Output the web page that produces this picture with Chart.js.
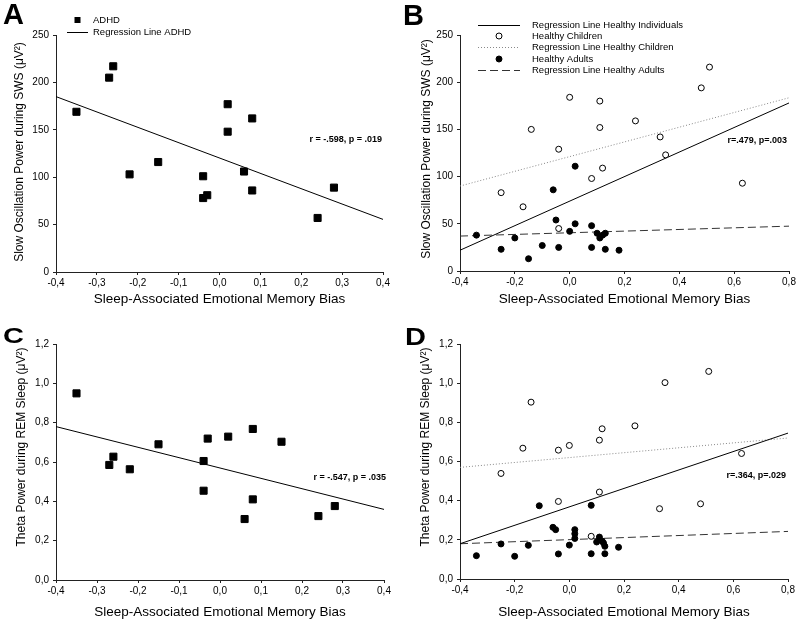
<!DOCTYPE html>
<html>
<head>
<meta charset="utf-8">
<script src="https://cdn.jsdelivr.net/npm/chart.js@4.4.1/dist/chart.umd.min.js"></script>
<style>
  body { margin: 0; background: #fff; width: 799px; height: 622px; position: relative; overflow: hidden; }
  canvas { position: absolute; }
</style>
</head>
<body>
<canvas id="chartA" width="400" height="310" style="left:0;top:0"></canvas>
<canvas id="chartB" width="399" height="310" style="left:400px;top:0"></canvas>
<canvas id="chartC" width="400" height="312" style="left:0;top:310px"></canvas>
<canvas id="chartD" width="399" height="312" style="left:400px;top:310px"></canvas>
<script>
// ---- data ----
// ADHD group (panels A and C)
const adhdBiasA = [-0.35, -0.27, -0.26, -0.22, -0.15, -0.04, -0.04, -0.03, 0.02, 0.02, 0.06, 0.08, 0.08, 0.24, 0.28];
const adhdSlowOsc = [169, 205, 217, 103, 116, 101, 78, 81, 177, 148, 106, 162, 86, 57, 89];
const adhdBiasC = [-0.35, -0.27, -0.26, -0.22, -0.15, -0.04, -0.04, -0.03, 0.02, 0.06, 0.08, 0.08, 0.15, 0.24, 0.28];
const adhdTheta = [0.949, 0.585, 0.627, 0.563, 0.69, 0.605, 0.454, 0.719, 0.729, 0.31, 0.768, 0.41, 0.703, 0.325, 0.376];

// healthy children (open circles, panels B and D)
const childBias = [-0.25, -0.17, -0.14, -0.04, -0.04, 0.0, 0.08, 0.11, 0.11, 0.12, 0.24, 0.33, 0.35, 0.48, 0.51, 0.63];
const childSlowOsc = [83, 68, 150, 129, 45, 184, 98, 180, 152, 109, 159, 142, 123, 194, 216, 93];
const childTheta = [0.539, 0.668, 0.903, 0.396, 0.658, 0.682, 0.218, 0.709, 0.444, 0.767, 0.782, 0.359, 1.003, 0.384, 1.06, 0.641];

// healthy adults (filled circles)
const adultBiasB = [-0.34, -0.25, -0.2, -0.15, -0.1, -0.06, -0.05, -0.04, 0.0, 0.02, 0.02, 0.08, 0.08, 0.1, 0.11, 0.12, 0.13, 0.13, 0.18];
const adultSlowOsc = [38, 23, 35, 13, 27, 86, 54, 25, 42, 111, 50, 48, 25, 40, 35, 38, 40, 23, 22];
const adultBiasD = [-0.34, -0.25, -0.2, -0.15, -0.11, -0.06, -0.05, -0.04, 0.0, 0.02, 0.02, 0.02, 0.08, 0.08, 0.1, 0.11, 0.12, 0.125, 0.13, 0.13, 0.18];
const adultTheta = [0.119, 0.179, 0.116, 0.172, 0.374, 0.264, 0.252, 0.128, 0.173, 0.252, 0.231, 0.207, 0.376, 0.129, 0.189, 0.214, 0.194, 0.184, 0.167, 0.129, 0.162];

// regression line end points [x0, y0, x1, y1]
const regA = [-0.4, 185, 0.4, 55.5];
const regC = [-0.4, 0.78, 0.4, 0.359];
const regB_all = [-0.4, 22, 0.8, 178];
const regB_child = [-0.4, 90, 0.8, 183.5];
const regB_adult = [-0.4, 37, 0.8, 47.5];
const regD_all = [-0.4, 0.18, 0.8, 0.745];
const regD_child = [-0.4, 0.57, 0.8, 0.72];
const regD_adult = [-0.4, 0.18, 0.8, 0.243];

// axis ticks
const xTicksAdhd = [-0.4, 0.4, 0.1];     // min, max, step
const xTicksHealthy = [-0.4, 0.8, 0.2];
const yTicksSlowOsc = [0, 250, 50];
const yTicksTheta = [0, 1.2, 0.2];

const FONT = '"Liberation Sans", Arial, Helvetica, sans-serif';
const xTitle = 'Sleep-Associated Emotional Memory Bias';

function pts(xs, ys) {
  return xs.map((x, i) => ({ x: x, y: ys[i] }));
}
function seg(r) {
  return [{ x: r[0], y: r[1] }, { x: r[2], y: r[3] }];
}
function comma(v, d) {
  return v.toFixed(d).replace('.', ',');
}

// draws panel letter, rotated y title, r/p note and the legend
const panelDeco = {
  id: 'panelDeco',
  afterDraw(chart, args, o) {
    const ctx = chart.ctx;
    ctx.save();
    ctx.fillStyle = '#000';

    ctx.save();
    ctx.font = 'bold 29px ' + FONT;
    ctx.textBaseline = 'alphabetic';
    ctx.translate(o.letterX, o.letterY);
    ctx.scale(1, o.letterSy);
    ctx.fillText(o.letter, 0, 0);
    ctx.restore();

    ctx.save();
    ctx.translate(o.yTitleX, o.yTitleY);
    ctx.rotate(-Math.PI / 2);
    ctx.font = '12px ' + FONT;
    ctx.textAlign = 'center';
    ctx.textBaseline = 'middle';
    ctx.fillText(o.yTitle, 0, 0);
    ctx.restore();

    ctx.font = 'bold 9px ' + FONT;
    ctx.textAlign = 'right';
    ctx.textBaseline = 'middle';
    ctx.fillText(o.note, o.noteX, o.noteY);

    ctx.font = '9.5px ' + FONT;
    ctx.textAlign = 'left';
    o.legend.forEach(function(it) {
      const mx = (o.legX0 + o.legX1) / 2;
      ctx.strokeStyle = it.color || '#000';
      ctx.lineWidth = 1;
      if (it.kind === 'line') {
        ctx.setLineDash(it.dash || []);
        ctx.beginPath();
        ctx.moveTo(o.legX0, it.y + 0.5);
        ctx.lineTo(o.legX1, it.y + 0.5);
        ctx.stroke();
        ctx.setLineDash([]);
      } else if (it.kind === 'square') {
        ctx.fillRect(mx - 3, it.y - 3, 6, 6);
      } else {
        ctx.beginPath();
        ctx.arc(mx, it.y, 3, 0, Math.PI * 2);
        ctx.fillStyle = it.kind === 'open' ? '#fff' : '#000';
        ctx.fill();
        ctx.strokeStyle = '#000';
        ctx.stroke();
        ctx.fillStyle = '#000';
      }
      ctx.fillText(it.label, o.legTextX, it.y);
    });
    ctx.restore();
  }
};

function scatterSet(data, kind) {
  const set = {
    type: 'scatter',
    data: data,
    order: 0,
    pointBorderColor: '#000',
    pointBorderWidth: 1,
    pointHoverRadius: 0
  };
  if (kind === 'square') {
    set.pointStyle = 'rect';
    set.pointRadius = 5;
    set.pointBackgroundColor = '#000';
  } else {
    set.pointStyle = 'circle';
    set.pointRadius = 3;
    set.pointBackgroundColor = kind === 'open' ? '#fff' : '#000';
  }
  return set;
}

function lineSet(r, color, dash) {
  return {
    type: 'line',
    data: seg(r),
    order: 1,
    borderColor: color,
    borderWidth: 1,
    borderDash: dash,
    pointRadius: 0,
    fill: false
  };
}

function makePanel(id, cfg) {
  const xd = cfg.xTicks[2] < 0.15 ? 1 : 1;
  new Chart(document.getElementById(id), {
    type: 'scatter',
    data: { datasets: cfg.datasets },
    plugins: [panelDeco],
    options: {
      responsive: false,
      animation: false,
      events: [],
      layout: { padding: cfg.pad },
      plugins: {
        legend: { display: false },
        tooltip: { enabled: false },
        panelDeco: cfg.deco
      },
      scales: {
        x: {
          type: 'linear',
          min: cfg.xTicks[0],
          max: cfg.xTicks[1],
          afterFit: function(s) { s.height = cfg.xHeight; },
          ticks: {
            stepSize: cfg.xTicks[2],
            color: '#000',
            font: { family: FONT, size: 10 },
            padding: 2,
            maxRotation: 0,
            callback: function(v) { return comma(v, xd); }
          },
          grid: { drawOnChartArea: false, drawTicks: true, tickLength: 3, color: '#222' },
          border: { display: true, color: '#222', width: 1 },
          title: { display: true, text: xTitle, color: '#000', padding: 0, font: { family: FONT, size: 13.5 } }
        },
        y: {
          type: 'linear',
          min: cfg.yTicks[0],
          max: cfg.yTicks[1],
          afterFit: function(s) { s.width = cfg.yWidth; },
          ticks: {
            stepSize: cfg.yTicks[2],
            color: '#000',
            font: { family: FONT, size: 10 },
            padding: 4,
            callback: function(v) { return cfg.yDec ? comma(v, 1) : String(Math.round(v)); }
          },
          grid: { drawOnChartArea: false, drawTicks: true, tickLength: 3, color: '#222' },
          border: { display: true, color: '#222', width: 1 }
        }
      }
    }
  });
}

const healthyLegend = [
  { kind: 'line', label: 'Regression Line Healthy Individuals', y: 25, color: '#000' },
  { kind: 'open', label: 'Healthy Children', y: 36 },
  { kind: 'line', label: 'Regression Line Healthy Children', y: 47, color: '#888', dash: [1, 2] },
  { kind: 'filled', label: 'Healthy Adults', y: 59 },
  { kind: 'line', label: 'Regression Line Healthy Adults', y: 70, color: '#333', dash: [8, 4] }
];

makePanel('chartA', {
  xTicks: xTicksAdhd, yTicks: yTicksSlowOsc, yDec: false,
  pad: { left: 0, right: 17, top: 35, bottom: 3 }, yWidth: 56, xHeight: 35,
  datasets: [
    scatterSet(pts(adhdBiasA, adhdSlowOsc), 'square'),
    lineSet(regA, '#000', [])
  ],
  deco: {
    letter: 'A', letterX: 3, letterY: 24, letterSy: 1,
    yTitle: 'Slow Oscillation Power during SWS (\u03bcV\u00b2)', yTitleX: 20, yTitleY: 152,
    note: 'r = -.598, p = .019', noteX: 382, noteY: 140,
    legX0: 67, legX1: 88, legTextX: 93,
    legend: [
      { kind: 'square', label: 'ADHD', y: 20 },
      { kind: 'line', label: 'Regression Line ADHD', y: 32, color: '#000' }
    ]
  }
});

makePanel('chartB', {
  xTicks: xTicksHealthy, yTicks: yTicksSlowOsc, yDec: false,
  pad: { left: 0, right: 10, top: 35, bottom: 3 }, yWidth: 60, xHeight: 36,
  datasets: [
    scatterSet(pts(childBias, childSlowOsc), 'open'),
    scatterSet(pts(adultBiasB, adultSlowOsc), 'filled'),
    lineSet(regB_all, '#000', []),
    lineSet(regB_child, '#888', [1, 2]),
    lineSet(regB_adult, '#333', [8, 4])
  ],
  deco: {
    letter: 'B', letterX: 3, letterY: 25, letterSy: 1,
    yTitle: 'Slow Oscillation Power during SWS (\u03bcV\u00b2)', yTitleX: 26.5, yTitleY: 149,
    note: 'r=.479, p=.003', noteX: 387, noteY: 141,
    legX0: 78, legX1: 120, legTextX: 132,
    legend: healthyLegend
  }
});

makePanel('chartC', {
  xTicks: xTicksAdhd, yTicks: yTicksTheta, yDec: true,
  pad: { left: 0, right: 16, top: 34, bottom: 2 }, yWidth: 56, xHeight: 40,
  datasets: [
    scatterSet(pts(adhdBiasC, adhdTheta), 'square'),
    lineSet(regC, '#000', [])
  ],
  deco: {
    letter: 'C', letterX: 3, letterY: 33, letterSy: 0.78,
    yTitle: 'Theta Power during REM Sleep (\u03bcV\u00b2)', yTitleX: 22, yTitleY: 137,
    note: 'r = -.547, p = .035', noteX: 386, noteY: 168,
    legX0: 0, legX1: 0, legTextX: 0,
    legend: []
  }
});

makePanel('chartD', {
  xTicks: xTicksHealthy, yTicks: yTicksTheta, yDec: true,
  pad: { left: 0, right: 11, top: 34, bottom: 2 }, yWidth: 60, xHeight: 41,
  datasets: [
    scatterSet(pts(childBias, childTheta), 'open'),
    scatterSet(pts(adultBiasD, adultTheta), 'filled'),
    lineSet(regD_all, '#000', []),
    lineSet(regD_child, '#888', [1, 2]),
    lineSet(regD_adult, '#333', [8, 4])
  ],
  deco: {
    letter: 'D', letterX: 5, letterY: 35, letterSy: 0.82,
    yTitle: 'Theta Power during REM Sleep (\u03bcV\u00b2)', yTitleX: 26, yTitleY: 137,
    note: 'r=.364, p=.029', noteX: 386, noteY: 166,
    legX0: 0, legX1: 0, legTextX: 0,
    legend: []
  }
});
</script>
</body>
</html>
